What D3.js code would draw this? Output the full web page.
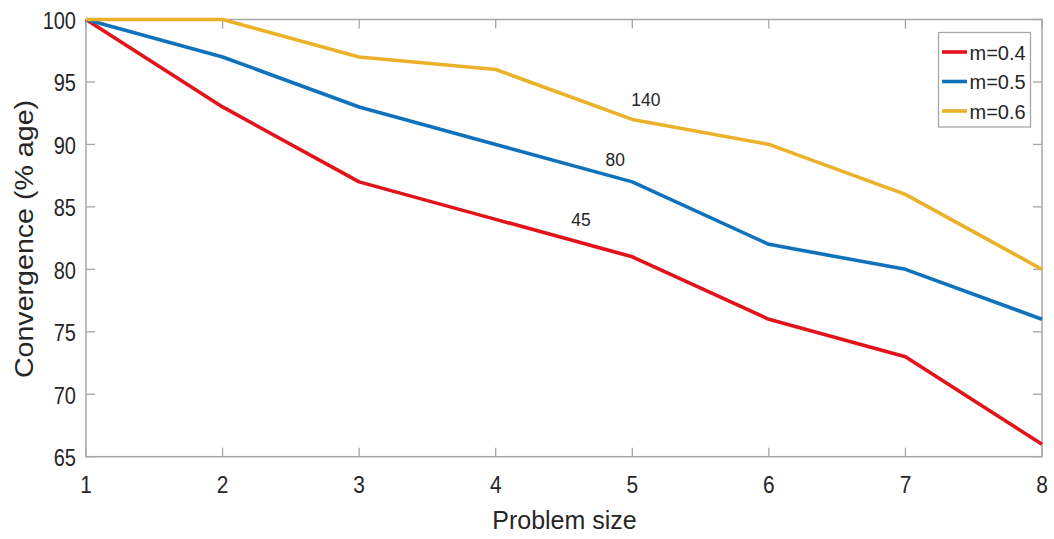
<!DOCTYPE html>
<html><head><meta charset="utf-8">
<script src="https://cdn.jsdelivr.net/npm/d3@7"></script>
<style>body{margin:0;background:#fff}svg{display:block}text{font-family:"Liberation Sans",Arial,sans-serif}</style>
</head><body><svg id="c" width="1054" height="539"></svg>
<script>
const sizes = [1,2,3,4,5,6,7,8];
const seriesNames = ["m=0.4","m=0.5","m=0.6"];
const m04 = [100,93,87,84,81,76,73,66];
const m05 = [100,97,93,90,87,82,80,76];
const m06 = [100,100,97,96,92,90,86,80];
const colors = ["#e3131b","#0f72bb","#ebb128"];
const yTicks = [65,70,75,80,85,90,95,100];
const annotations = [{x:4.625,y:83.5,t:"45"},{x:4.875,y:88.3,t:"80"},{x:5.1,y:93.1,t:"140"}];

const svg = d3.select("#c");
const L=86,R=1042,T=19.5,B=456.7;
const x = d3.scaleLinear().domain([1,8]).range([L,R]);
const y = d3.scaleLinear().domain([65,100]).range([B,T]);
const axisCol="#a6a6a6", txtCol="#262626";

svg.append("rect").attr("x",L).attr("y",T).attr("width",R-L).attr("height",B-T)
  .attr("fill","none").attr("stroke",axisCol).attr("stroke-width",1.5);

const g = svg.append("g");
sizes.forEach(v=>{
  g.append("line").attr("x1",x(v)).attr("x2",x(v)).attr("y1",B).attr("y2",B-9).attr("stroke",axisCol).attr("stroke-width",1.3);
  g.append("line").attr("x1",x(v)).attr("x2",x(v)).attr("y1",T).attr("y2",T+9).attr("stroke",axisCol).attr("stroke-width",1.3);
  g.append("text").attr("transform",`translate(${x(v)},${B+36}) scale(0.87,1)`).attr("text-anchor","middle").attr("font-size",24).attr("fill",txtCol).text(v);
});
yTicks.forEach(v=>{
  g.append("line").attr("x1",L).attr("x2",L+9).attr("y1",y(v)).attr("y2",y(v)).attr("stroke",axisCol).attr("stroke-width",1.3);
  g.append("line").attr("x1",R).attr("x2",R-9).attr("y1",y(v)).attr("y2",y(v)).attr("stroke",axisCol).attr("stroke-width",1.3);
  g.append("text").attr("transform",`translate(${L-10},${y(v)+9.5}) scale(0.87,1)`).attr("text-anchor","end").attr("font-size",23).attr("fill",txtCol).text(v);
});

const data=[m04,m05,m06];
const line = d3.line().x((d,i)=>x(sizes[i])).y(d=>y(d));
data.forEach((s,k)=>{
  svg.append("path").attr("d",line(s)).attr("fill","none").attr("stroke",colors[k]).attr("stroke-width",3.6).attr("stroke-linejoin","round");
});

annotations.forEach(a=>{
  svg.append("text").attr("transform",`translate(${x(a.x)},${y(a.y)}) scale(0.92,1)`).attr("text-anchor","middle").attr("font-size",19).attr("fill",txtCol).text(a.t);
});

svg.append("text").attr("x",564.5).attr("y",529).attr("text-anchor","middle").attr("font-size",25).attr("fill",txtCol).text("Problem size");
svg.append("text").attr("transform","translate(33,239) rotate(-90) scale(1.1,1)").attr("text-anchor","middle").attr("font-size",26).attr("fill",txtCol).text("Convergence (% age)");

const lg = svg.append("g");
lg.append("rect").attr("x",938.5).attr("y",32.5).attr("width",92).attr("height",94.5).attr("fill","#fff").attr("stroke",axisCol).attr("stroke-width",1.3);
seriesNames.forEach((n,i)=>{
  const yy=52+i*29.5;
  lg.append("line").attr("x1",942).attr("x2",967).attr("y1",yy).attr("y2",yy).attr("stroke",colors[i]).attr("stroke-width",3.6);
  lg.append("text").attr("x",969.5).attr("y",yy+7.5).attr("font-size",20).attr("fill",txtCol).text(n);
});
</script></body></html>
